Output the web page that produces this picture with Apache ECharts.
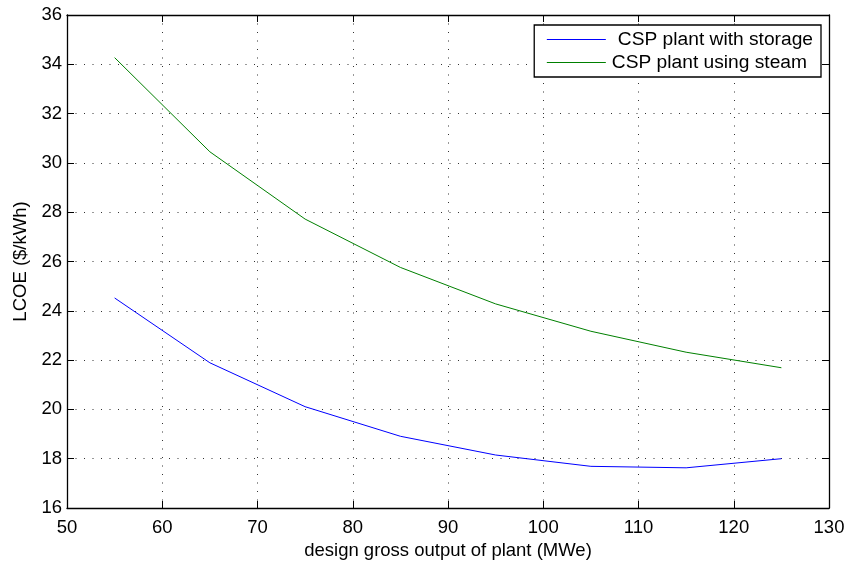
<!DOCTYPE html>
<html>
<head>
<meta charset="utf-8">
<script src="https://cdn.jsdelivr.net/npm/echarts@6/dist/echarts.min.js"></script>
<style>html,body{margin:0;padding:0;background:#fff;}#c{width:849px;height:562px;}</style>
</head>
<body>
<div id="c"></div>
<script>
var outputMWe = [55, 65, 75, 85, 95, 105, 115, 125];
var storageLCOE = [24.52, 21.89, 20.11, 18.91, 18.15, 17.69, 17.63, 18.0];
var steamLCOE = [34.27, 30.45, 27.72, 25.76, 24.28, 23.17, 22.32, 21.69];
var seriesNames = ['CSP plant with storage', 'CSP plant using steam'];
var xTitle = 'design gross output of plant (MWe)';
var yTitle = 'LCOE ($/kWh)';

function pairs(xs, ys) { return xs.map(function (x, i) { return [x, ys[i]]; }); }

var FONT = '"Liberation Sans", Arial, Helvetica, sans-serif';
var FS = 18.5;
var BLUE = '#0000ff', GREEN = '#008000';
var chart = echarts.init(document.getElementById('c'), null, { renderer: 'canvas' });
var gridLine = { show: true, lineStyle: { color: '#333', width: 1, type: [1, 7.5] } };
var tick = { show: true, inside: true, length: 7, lineStyle: { color: '#000' } };
chart.setOption({
  animation: false,
  backgroundColor: '#fff',
  textStyle: { fontFamily: FONT },
  grid: { left: 67, right: 20, top: 15, bottom: 54, containLabel: false, outerBoundsMode: 'none' },
  legend: {
    orient: 'vertical', right: 28, top: 25,
    backgroundColor: '#fff', borderColor: '#000', borderWidth: 1.3, borderRadius: 0,
    padding: [5, 8, 5, 12], itemGap: 4, itemWidth: 59, itemHeight: 14,
    itemStyle: { opacity: 0 },
    textStyle: { fontFamily: FONT, fontSize: 19.2, color: '#000', lineHeight: 19 },
    data: [
      { name: seriesNames[0], textStyle: { padding: [0, 0, 0, 7] }, lineStyle: { color: BLUE, width: 1.2 } },
      { name: seriesNames[1], textStyle: { padding: [0, 0, 0, 1] }, lineStyle: { color: GREEN, width: 1.2 } }
    ]
  },
  xAxis: [{
    type: 'value', min: 50, max: 130, interval: 10, position: 'bottom',
    name: xTitle, nameLocation: 'middle', nameGap: 31,
    nameTextStyle: { fontFamily: FONT, fontSize: FS, color: '#000' },
    axisLine: { show: true, lineStyle: { color: '#000', width: 1.3 } },
    axisTick: tick, splitLine: gridLine,
    axisLabel: { fontFamily: FONT, fontSize: FS, color: '#000', margin: 10 }
  }, {
    type: 'value', min: 50, max: 130, interval: 10, position: 'top',
    axisLine: { show: true, onZero: false, lineStyle: { color: '#000', width: 1.3 } },
    axisTick: tick, axisLabel: { show: false }, splitLine: { show: false }
  }],
  yAxis: [{
    type: 'value', min: 16, max: 36, interval: 2, position: 'left',
    name: yTitle, nameLocation: 'middle', nameGap: 35,
    nameTextStyle: { fontFamily: FONT, fontSize: FS, color: '#000' },
    axisLine: { show: true, lineStyle: { color: '#000', width: 1.3 } },
    axisTick: tick, splitLine: gridLine,
    axisLabel: { fontFamily: FONT, fontSize: FS, color: '#000', margin: 5 }
  }, {
    type: 'value', min: 16, max: 36, interval: 2, position: 'right',
    axisLine: { show: true, onZero: false, lineStyle: { color: '#000', width: 1.3 } },
    axisTick: tick, axisLabel: { show: false }, splitLine: { show: false }
  }],
  series: [{
    name: seriesNames[0], type: 'line', symbol: 'none', showSymbol: false,
    data: pairs(outputMWe, storageLCOE),
    lineStyle: { color: BLUE, width: 1 }, itemStyle: { color: BLUE }
  }, {
    name: seriesNames[1], type: 'line', symbol: 'none', showSymbol: false,
    data: pairs(outputMWe, steamLCOE),
    lineStyle: { color: GREEN, width: 1 }, itemStyle: { color: GREEN }
  }]
});
</script>
</body>
</html>
